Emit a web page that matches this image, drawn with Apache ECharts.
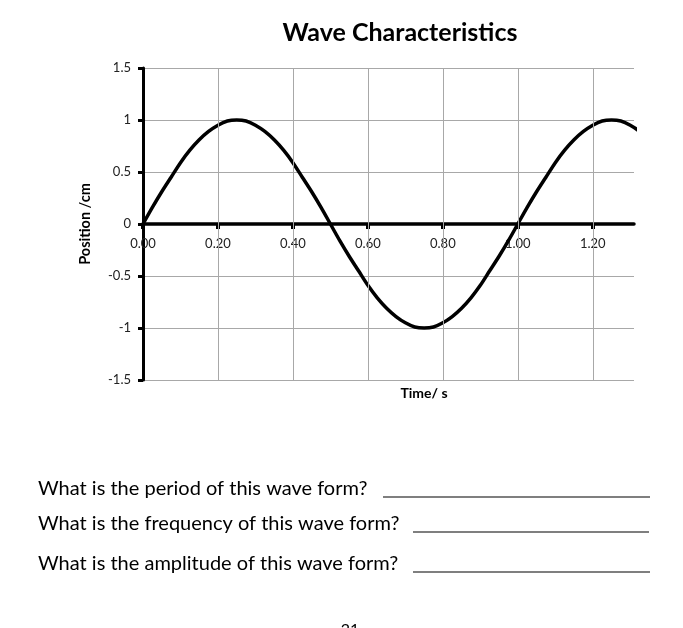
<!DOCTYPE html>
<html>
<head>
<meta charset="utf-8">
<script src="https://cdn.jsdelivr.net/npm/echarts@6/dist/echarts.min.js"></script>
<style>html,body{margin:0;padding:0;background:#fff;}#c{width:683px;height:628px;}</style>
</head>
<body>
<div id="c"></div>
<script>
var timeValues = [0, 0.025, 0.05, 0.075, 0.10, 0.125, 0.15, 0.175, 0.20, 0.225, 0.25, 0.275, 0.30, 0.325, 0.35, 0.375, 0.40, 0.425, 0.45, 0.475, 0.50, 0.525, 0.55, 0.575, 0.60, 0.625, 0.65, 0.675, 0.70, 0.725, 0.75, 0.775, 0.80, 0.825, 0.85, 0.875, 0.90, 0.925, 0.95, 0.975, 1.00, 1.025, 1.05, 1.075, 1.10, 1.125, 1.15, 1.175, 1.20, 1.225, 1.25, 1.275, 1.30, 1.325, 1.35];
var positionValues = [0, 0.16, 0.31, 0.45, 0.59, 0.71, 0.81, 0.89, 0.95, 0.99, 1, 0.99, 0.95, 0.89, 0.81, 0.71, 0.59, 0.45, 0.31, 0.16, 0, -0.16, -0.31, -0.45, -0.59, -0.71, -0.81, -0.89, -0.95, -0.99, -1, -0.99, -0.95, -0.89, -0.81, -0.71, -0.59, -0.45, -0.31, -0.16, 0, 0.16, 0.31, 0.45, 0.59, 0.71, 0.81, 0.89, 0.95, 0.99, 1, 0.99, 0.95, 0.89, 0.81];
var xTicks = [0, 0.2, 0.4, 0.6, 0.8, 1.0, 1.2];
var chartTitle = 'Wave Characteristics';
var xName = 'Time/ s';
var yName = 'Position /cm';
var questions = ['What is the period of this wave form?', 'What is the frequency of this wave form?', 'What is the amplitude of this wave form?'];
var pageNumber = '21';

var FONT = 'Lato, "Open Sans", sans-serif';
var chart = echarts.init(document.getElementById('c'), null, {renderer: 'canvas'});
var pts = timeValues.map(function (t, i) { return [t, positionValues[i]]; });

var graphics = [
  {type: 'text', style: {x: 400, y: 33, text: chartTitle, font: 'bold 25px ' + FONT, fill: '#000', textAlign: 'center', textVerticalAlign: 'middle'}},
  {type: 'text', style: {x: 424, y: 393, text: xName, font: 'bold 14px ' + FONT, fill: '#000', textAlign: 'center', textVerticalAlign: 'middle'}}
];
var qY = [489, 524, 564];
var lineSeg = [[383, 650], [413, 649], [413, 650]];
questions.forEach(function (q, i) {
  graphics.push({type: 'text', style: {x: 38, y: qY[i], text: q, font: '20px ' + FONT, fill: '#000', textAlign: 'left', textVerticalAlign: 'middle'}});
  graphics.push({type: 'line', shape: {x1: lineSeg[i][0], y1: qY[i] + 8, x2: lineSeg[i][1], y2: qY[i] + 8}, style: {stroke: '#000', lineWidth: 1.2}});
});
graphics.push({type: 'text', style: {x: 350, y: 630, text: pageNumber, font: '16px ' + FONT, fill: '#000', textAlign: 'center', textVerticalAlign: 'middle'}});

chart.setOption({
  animation: false,
  backgroundColor: '#fff',
  grid: {left: 143, right: 49, top: 68, bottom: 248, containLabel: false},
  xAxis: {
    type: 'value', min: 0, max: 1.31, offset: -156,
    axisLine: {onZero: false, lineStyle: {color: '#000', width: 3.5}},
    axisTick: {show: true, customValues: xTicks, length: 5, lineStyle: {color: '#000', width: 4}},
    axisLabel: {customValues: xTicks, margin: 13, color: '#222', fontFamily: FONT, fontSize: 13, formatter: function (v) { return v.toFixed(2); }},
    splitLine: {show: false}
  },
  yAxis: {
    type: 'value', min: -1.5, max: 1.5, interval: 0.5,
    name: yName, nameLocation: 'middle', nameRotate: 90, nameGap: 50,
    nameTextStyle: {fontFamily: FONT, fontWeight: 'bold', fontSize: 14.5, color: '#000'},
    axisLine: {show: true, onZero: false, lineStyle: {color: '#000', width: 3}},
    axisTick: {show: true, length: 5, lineStyle: {color: '#000', width: 3}},
    axisLabel: {margin: 12, color: '#222', fontFamily: FONT, fontSize: 13},
    splitLine: {show: true, lineStyle: {color: '#a8a8a8', width: 1}}
  },
  graphic: graphics,
  series: [
    {
      type: 'line', data: [], z: 1, silent: true,
      markLine: {
        silent: true, symbol: 'none', label: {show: false},
        lineStyle: {color: '#a8a8a8', width: 1, type: 'solid'},
        data: xTicks.filter(function (v) { return v > 0; }).map(function (v) { return {xAxis: v}; })
      }
    },
    {
      type: 'line', data: pts, smooth: 0.3, showSymbol: false, clip: true, z: 3,
      lineStyle: {color: '#000', width: 3.5}
    }
  ]
});
</script>
</body>
</html>
